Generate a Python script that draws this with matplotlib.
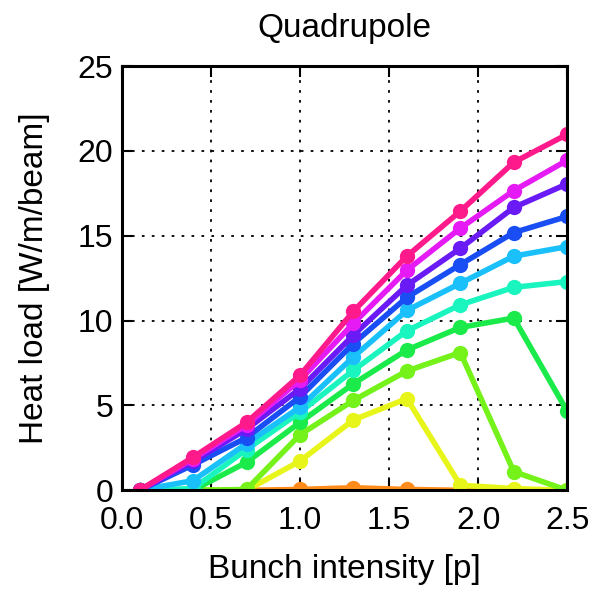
"""Quadrupole heat load vs bunch intensity."""

import matplotlib
matplotlib.use("Agg")
import matplotlib.pyplot as plt

plt.rcParams["font.family"] = ["Liberation Sans", "DejaVu Sans"]

intensity = [0.1, 0.4, 0.7, 1.0, 1.3, 1.6, 1.9, 2.2, 2.5]

# one curve per scan setting, bottom (orange) to top (pink)
load_orange = [0.0, 0.0, 0.0, 0.05, 0.15, 0.05, 0.0, 0.0, 0.0]
load_yellow = [0.0, 0.0, 0.0, 1.72, 4.15, 5.4, 0.3, 0.1, 0.0]
load_lime = [0.0, 0.0, 0.05, 3.27, 5.3, 7.03, 8.12, 1.1, 0.0]
load_green = [0.0, 0.0, 1.65, 4.0, 6.28, 8.27, 9.6, 10.15, 4.65]
load_aqua = [0.0, 0.1, 2.4, 4.6, 7.07, 9.4, 10.93, 11.96, 12.3]
load_sky = [0.0, 0.57, 2.75, 4.9, 7.86, 10.6, 12.2, 13.8, 14.36]
load_blue = [0.0, 1.5, 3.1, 5.5, 8.65, 11.37, 13.3, 15.19, 16.14]
load_purple = [0.0, 1.7, 3.6, 5.98, 9.15, 12.08, 14.26, 16.67, 18.06]
load_magenta = [0.0, 1.85, 3.85, 6.5, 9.84, 12.97, 15.45, 17.66, 19.45]
load_pink = [0.0, 1.95, 4.0, 6.77, 10.55, 13.8, 16.45, 19.33, 20.98]

series = [load_orange, load_yellow, load_lime, load_green, load_aqua,
          load_sky, load_blue, load_purple, load_magenta, load_pink]
colors = ["#ff8c1a", "#e8f51a", "#74f21a", "#1aeb4a", "#1af5c0",
          "#1ac0fa", "#1a4ef5", "#6a1af5", "#e61af5", "#ff1a8c"]

fig = plt.figure(figsize=(5.94, 5.90), dpi=100)
ax = fig.add_axes([0.205, 0.169, 0.75, 0.719])

for vals, c in zip(series, colors):
    ax.plot(intensity, vals, "-o", color=c, linewidth=4, markersize=11,
            markeredgewidth=0)

ax.set_xlim(0, 2.5)
ax.set_ylim(0, 25)
ax.set_xticks([0.0, 0.5, 1.0, 1.5, 2.0, 2.5])
ax.set_yticks([0, 5, 10, 15, 20, 25])
ax.grid(True, color="black", linestyle=(0, (1.5, 4)), linewidth=1.3)
ax.tick_params(direction="in", top=True, right=True, length=8, width=1.5,
               labelsize=23, pad=6)
ax.tick_params(axis="x", pad=11)
for s in ax.spines.values():
    s.set_linewidth(2.2)

ax.set_xlabel("Bunch intensity [p]", fontsize=24, labelpad=13)
ax.set_ylabel("Heat load [W/m/beam]", fontsize=24, labelpad=20)
ax.set_title("Quadrupole", fontsize=24, pad=21)

fig.savefig("out.png", dpi=100)
